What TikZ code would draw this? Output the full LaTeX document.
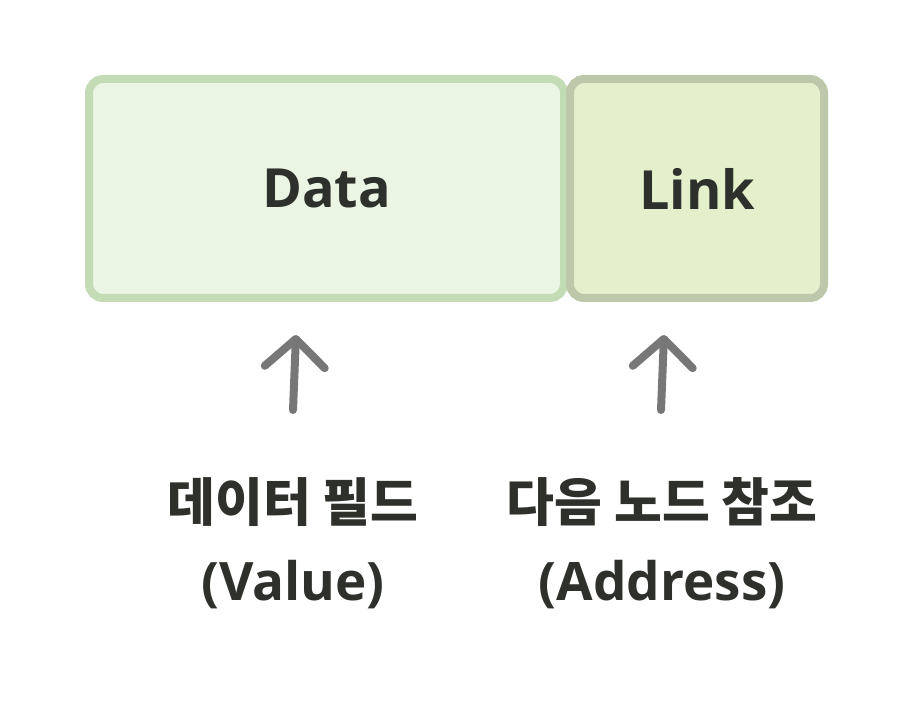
\documentclass[tikz,border=0pt]{standalone}
\usepackage{fontspec}
\setmainfont{Open Sans}
\newfontfamily\krfont{Noto Sans CJK KR}
\usetikzlibrary{arrows.meta}

\definecolor{datafill}{HTML}{EAF5E3}
\definecolor{dataline}{HTML}{C4DCB6}
\definecolor{linkfill}{HTML}{E4F0CC}
\definecolor{linkline}{HTML}{BDC7A9}
\definecolor{inkdark}{HTML}{2E302B}
\definecolor{ptrgray}{HTML}{777777}

\tikzset{
    field/.style={draw, line width=8pt, rounded corners=14pt, inner sep=0pt,
        minimum height=219pt, text=inkdark, font=\fontsize{54}{60}\selectfont\bfseries},
    caption/.style={text=inkdark, inner sep=0pt},
    ptr/.style={draw=ptrgray, line width=8pt, line cap=round,
        -{Straight Barb[length=28pt, width=60pt, round]}}
}

\begin{document}
\begin{tikzpicture}[x=1pt, y=1pt]
    % Canvas
    \useasboundingbox (0,0) rectangle (917,718);

    % Node fields
    \node[field, fill=datafill, draw=dataline, minimum width=475pt] (data) at (326.5,529.5) {Data};
    \node[field, fill=linkfill, draw=linkline, minimum width=254pt] (link) at (697,529.5) {Link};

    % Captions
    \node[caption, font=\krfont\fontsize{52}{56}\selectfont\bfseries] (valkr) at (293,216) {데이터 필드};
    \node[caption, font=\fontsize{53}{58}\selectfont\bfseries] (valen) at (293,133) {(Value)};
    \node[caption, font=\krfont\fontsize{52}{56}\selectfont\bfseries] (addrkr) at (662,216) {다음 노드 참조};
    \node[caption, font=\fontsize{53}{58}\selectfont\bfseries] (addren) at (662,133) {(Address)};

    % Pointer arrows
    \coordinate (valtail) at (293,308);
    \coordinate (valtip) at (296,383);
    \coordinate (addrtail) at (661,308);
    \coordinate (addrtip) at (664,383);
    \draw[ptr] (valtail) -- (valtip);
    \draw[ptr] (addrtail) -- (addrtip);
\end{tikzpicture}
\end{document}
